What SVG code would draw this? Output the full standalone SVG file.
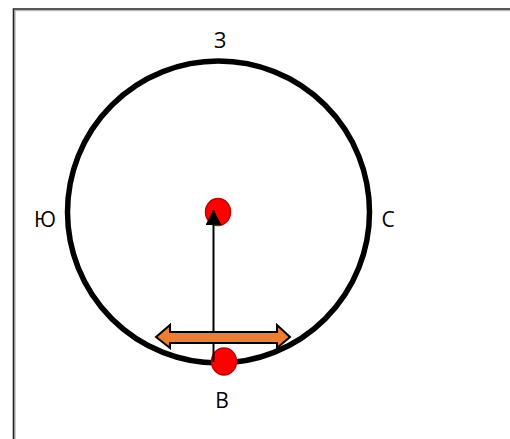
<svg xmlns="http://www.w3.org/2000/svg" width="510" height="439" viewBox="0 0 510 439">
<defs>
<style>
.lbl{font-family:"Open Sans","Liberation Sans",sans-serif;font-size:21px;fill:#000;text-anchor:middle}
.dot{fill:#ff0000;stroke:#c00000;stroke-width:1.5}
</style>
<marker id="ah" markerWidth="15" markerHeight="16" refX="15" refY="8" orient="auto" markerUnits="userSpaceOnUse">
<path d="M0,0 L15,8 L0,16 Z" fill="#000"/>
</marker>
</defs>
<rect width="510" height="439" fill="#fff"/>
<g id="frame">
<path d="M15,440 V10.5 H511" fill="none" stroke="#bbb" stroke-width="1.5"/>
<path d="M13.5,440 V9 H511" fill="none" stroke="#222" stroke-width="1.6"/>
</g>
<g id="orbit"><circle cx="218.5" cy="212" r="151" fill="none" stroke="#000" stroke-width="5.5"/></g>
<g id="label-z"><text class="lbl" x="220" y="48">З</text></g>
<g id="label-yu"><text class="lbl" x="45" y="227">Ю</text></g>
<g id="label-s"><text class="lbl" x="388" y="227">С</text></g>
<g id="label-v"><text class="lbl" x="222" y="408">В</text></g>
<g id="dot-bottom"><ellipse class="dot" cx="224" cy="361.5" rx="12.5" ry="13.5"/></g>
<g id="dot-center"><ellipse class="dot" cx="218" cy="212" rx="12.5" ry="13.5"/></g>
<g id="connectors">
<line x1="213.5" y1="362" x2="213.5" y2="210" stroke="#000" stroke-width="2" marker-end="url(#ah)"/>
<path d="M156,337 L170,325 L170,332 L277,332 L277,325 L290,337 L277,348 L277,343 L170,343 L170,348 Z" fill="#ed7d31" stroke="#000" stroke-width="2" stroke-linejoin="miter"/>
</g>
</svg>
